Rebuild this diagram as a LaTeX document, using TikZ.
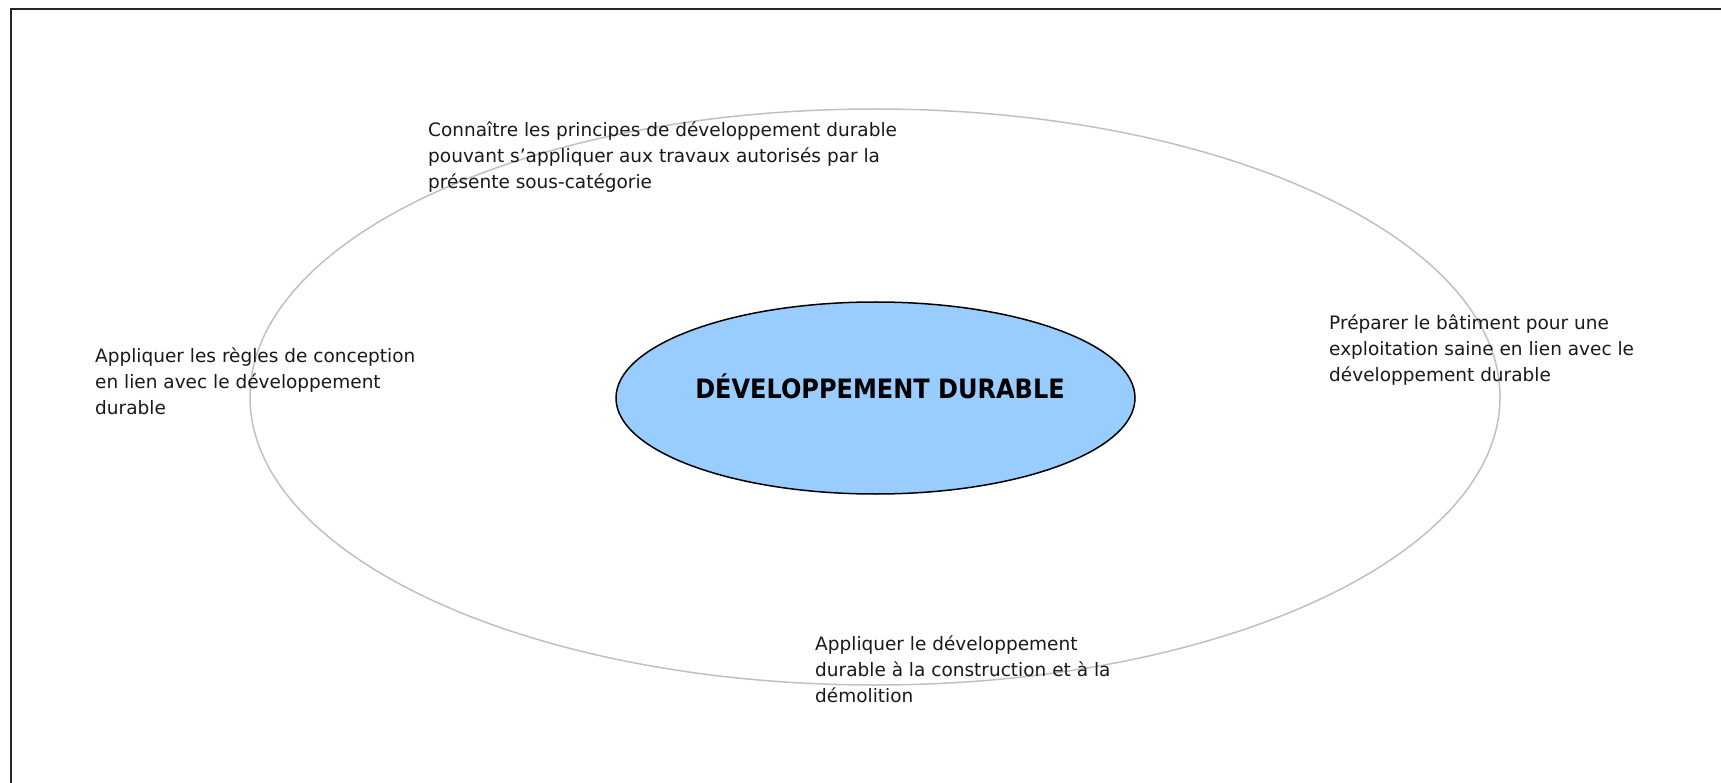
\documentclass[tikz,border=0pt]{standalone}
\usepackage{fontspec}
\setmainfont{DejaVu Sans}
\newfontfamily\condfont{DejaVu Sans Condensed}[BoldFont={DejaVu Sans Condensed Bold}]
\usetikzlibrary{shapes.geometric}
\definecolor{ringgray}{HTML}{C0C0C0}
\definecolor{coreblue}{HTML}{99CCFF}
\newcommand{\firstline}{\rule{0pt}{20pt}}
\tikzset{
  frame/.style={line width=2.2pt, draw=black!85},
  ringstyle/.style={ellipse, draw=ringgray, line width=1.5pt, minimum width=1250pt, minimum height=576pt, inner sep=0},
  corestyle/.style={ellipse, draw=black, fill=coreblue, line width=1.5pt, minimum width=519pt, minimum height=192pt, inner sep=0},
  label/.style={anchor=north west, inner sep=0, align=left, font=\fontsize{18.5}{26}\selectfont, text=black!90},
  title/.style={anchor=base, inner sep=0, font=\condfont\fontsize{26.7}{32}\selectfont\bfseries}
}
\begin{document}
\begin{tikzpicture}[x=1pt,y=-1pt]
\useasboundingbox (0,0) rectangle (1721,783);
\draw[frame] (11,9) rectangle (1760,820);
\node[ringstyle] (ring) at (875,397) {};
\node[corestyle] (core) at (875.5,398) {};
\node[title] (coretext) at ([xshift=4.5pt,yshift=-1pt]core.center) {DÉVELOPPEMENT DURABLE};
\node[label] (top) at (428,116) {\firstline Connaître les principes de développement durable\\pouvant s’appliquer aux travaux autorisés par la\\présente sous-catégorie};
\node[label] (left) at (95,342) {\firstline Appliquer les règles de conception\\en lien avec le développement\\durable};
\node[label] (right) at (1329,309) {\firstline Préparer le bâtiment pour une\\exploitation saine en lien avec le\\développement durable};
\node[label] (bottom) at (815,630) {\firstline Appliquer le développement\\durable à la construction et à la\\démolition};
\end{tikzpicture}
\end{document}
